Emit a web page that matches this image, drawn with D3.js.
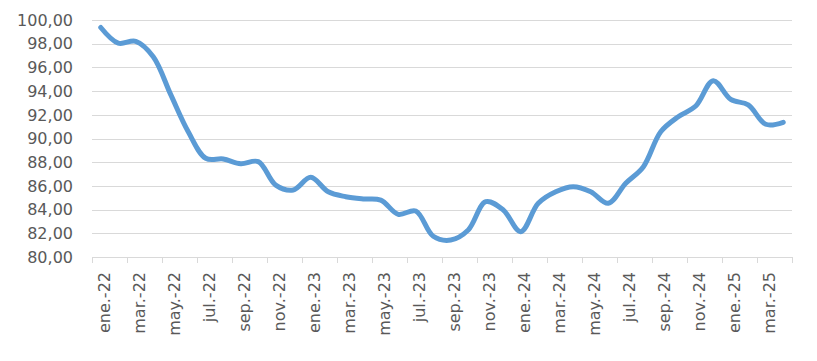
<!DOCTYPE html>
<html><head><meta charset="utf-8">
<script src="https://cdn.jsdelivr.net/npm/d3@7"></script>
<style>html,body{margin:0;padding:0;background:#fff;}svg{display:block;}</style>
</head><body>
<svg id="chart" width="817" height="361"></svg>
<script>
const months = ["ene.","feb.","mar.","abr.","may.","jun.","jul.","ago.","sep.","oct.","nov.","dic."];
const categories = [];
for (let yr = 22; yr <= 25; yr++) for (let m = 0; m < 12; m++) { if (yr === 25 && m > 3) break; categories.push(months[m] + "-" + yr); }
const values = [99.37, 98.05, 98.2, 96.9, 93.7, 90.57, 88.33, 88.27, 87.87, 88.05,
                86.07, 85.65, 86.72, 85.5, 85.09, 84.9, 84.8, 83.6, 83.88, 81.75,
                81.43, 82.28, 84.67, 83.97, 82.14, 84.53, 85.5, 85.93, 85.5, 84.53,
                86.22, 87.6, 90.57, 91.84, 92.74, 94.88, 93.3, 92.83, 91.2, 91.37];
const yTicks = [80, 82, 84, 86, 88, 90, 92, 94, 96, 98, 100];

(function () {
const svg = d3.select("#chart");
const mLeft = 92, mRight = 792, mTop = 20, mBottom = 257;
const x = d3.scaleBand().domain(categories).range([mLeft, mRight]).padding(0);
const y = d3.scaleLinear().domain([80, 100]).range([mBottom, mTop]);
const fmt = v => v.toFixed(2).replace(".", ",");
const font = "'DejaVu Sans', sans-serif";

svg.append("g").selectAll("line").data(yTicks.filter(d => d > 80)).join("line")
  .attr("x1", mLeft).attr("x2", mRight)
  .attr("y1", d => Math.round(y(d)) + 0.5).attr("y2", d => Math.round(y(d)) + 0.5)
  .attr("stroke", "#d9d9d9").attr("stroke-width", 1);

svg.append("g").selectAll("text").data(yTicks).join("text")
  .attr("x", 73).attr("y", d => y(d)).attr("dy", "0.36em")
  .attr("text-anchor", "end").attr("font-family", font).attr("font-size", 16)
  .attr("fill", "#595959").text(fmt);

svg.append("line").attr("x1", mLeft).attr("x2", mRight)
  .attr("y1", mBottom + 0.5).attr("y2", mBottom + 0.5)
  .attr("stroke", "#d9d9d9").attr("stroke-width", 1);

const tickEdges = d3.range(0, categories.length + 1, 2).map(i => i < categories.length ? x(categories[i]) : mRight);
svg.append("g").selectAll("line").data(tickEdges).join("line")
  .attr("x1", d => Math.round(d) + 0.5).attr("x2", d => Math.round(d) + 0.5)
  .attr("y1", mBottom).attr("y2", mBottom + 6)
  .attr("stroke", "#d9d9d9").attr("stroke-width", 1);

const labelCats = categories.filter((c, i) => i % 2 === 0);
svg.append("g").selectAll("text").data(labelCats).join("text")
  .attr("transform", d => `translate(${x(d) + x.bandwidth() / 2 + 3},${mBottom + 15}) rotate(-90)`)
  .attr("dy", "0.36em").attr("text-anchor", "end")
  .attr("font-family", font).attr("font-size", 16).attr("fill", "#595959").text(d => d);

const line = d3.line()
  .x((d, i) => x(categories[i]) + x.bandwidth() / 2)
  .y(d => y(d))
  .curve(d3.curveCatmullRom.alpha(0.5));
svg.append("path").datum(values).attr("d", line)
  .attr("fill", "none").attr("stroke", "#5B9BD5").attr("stroke-width", 5)
  .attr("stroke-linejoin", "round").attr("stroke-linecap", "round");
})();
</script>
</body></html>
